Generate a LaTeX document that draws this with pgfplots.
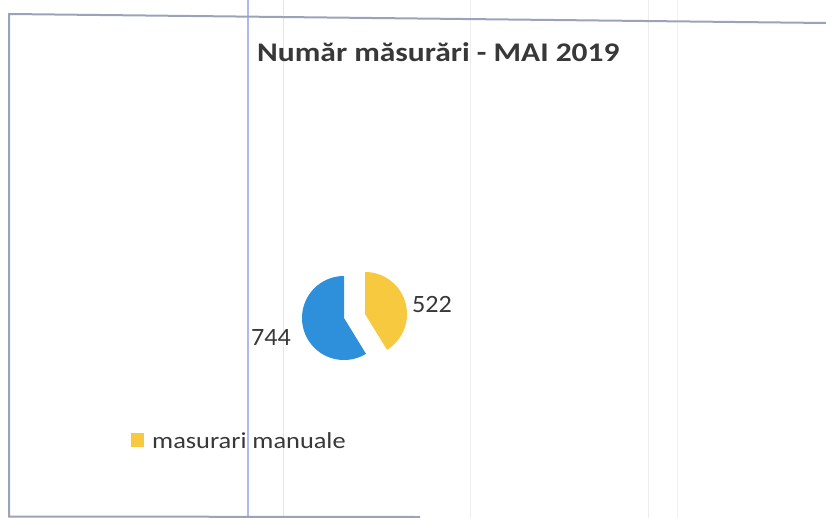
\documentclass[border=0pt]{standalone}
\usepackage{pgfplots}
\pgfplotsset{compat=1.18}
\usepackage{fontspec}
\setmainfont{Carlito}
\definecolor{pieblue}{HTML}{2E8FDA}
\definecolor{pieyellow}{HTML}{F6C93F}
\definecolor{txt}{HTML}{383838}
\definecolor{frame}{HTML}{9AA3B8}
\definecolor{scanline}{HTML}{B0B8F0}
% data
\def\vManual{522}
\def\vOther{744}
\pgfmathsetmacro\vTotal{\vManual+\vOther}
\pgfmathsetmacro\fManual{\vManual/\vTotal}
\pgfmathsetmacro\aManual{360*\fManual}
\pgfmathsetmacro\yStart{90-\aManual}
\pgfmathsetmacro\bEnd{450-\aManual}
\begin{document}
\begin{tikzpicture}
\useasboundingbox (0,0) rectangle (826bp,518bp);
\begin{axis}[
  at={(0,0)}, anchor=south west,
  width=826bp, height=518bp, scale only axis,
  xmin=0, xmax=826, ymin=0, ymax=518, y dir=reverse,
  hide axis, clip=true,
]
% scan artefacts / frame
\draw[black!10, line width=0.8bp] (283,0) -- (283,518);
\draw[black!7, line width=0.8bp] (470,0) -- (470,518);
\draw[black!7, line width=0.8bp] (648,0) -- (648,518);
\draw[black!5, line width=0.8bp] (677,0) -- (677,518);
\draw[scanline, line width=2.5bp] (248,0) -- (248,518);
\draw[frame, line width=2bp] (826,23) -- (9,14) -- (9,516.5) -- (420,517);
% pie slices
\addplot[fill=pieyellow, draw=none, domain=\yStart:90, samples=80, variable=\t]
  ({365+42*cos(\t)}, {314-42*sin(\t)}) -- (365,314) -- cycle;
\addplot[fill=pieblue, draw=none, domain=90:\bEnd, samples=120, variable=\t]
  ({344+42*cos(\t)}, {318-42*sin(\t)}) -- (344,318) -- cycle;
% labels
\node[anchor=base west, inner sep=0pt, text=txt, xscale=1.05, font=\fontsize{25}{30}\selectfont] at (412,312) {\vManual};
\node[anchor=base west, inner sep=0pt, text=txt, xscale=1.05, font=\fontsize{25}{30}\selectfont] at (251,345) {\vOther};
% title
\node[anchor=base west, inner sep=0pt, text=txt, xscale=1.17, font=\fontsize{27}{32}\selectfont\bfseries] at (257,62) {Număr măsurări - MAI 2019};
% legend
\fill[pieyellow] (131,433) rectangle (144,447);
\node[anchor=base west, inner sep=0pt, text=txt, xscale=1.15, font=\fontsize{23}{27}\selectfont] at (152,448) {masurari manuale};
\end{axis}
\end{tikzpicture}
\end{document}
